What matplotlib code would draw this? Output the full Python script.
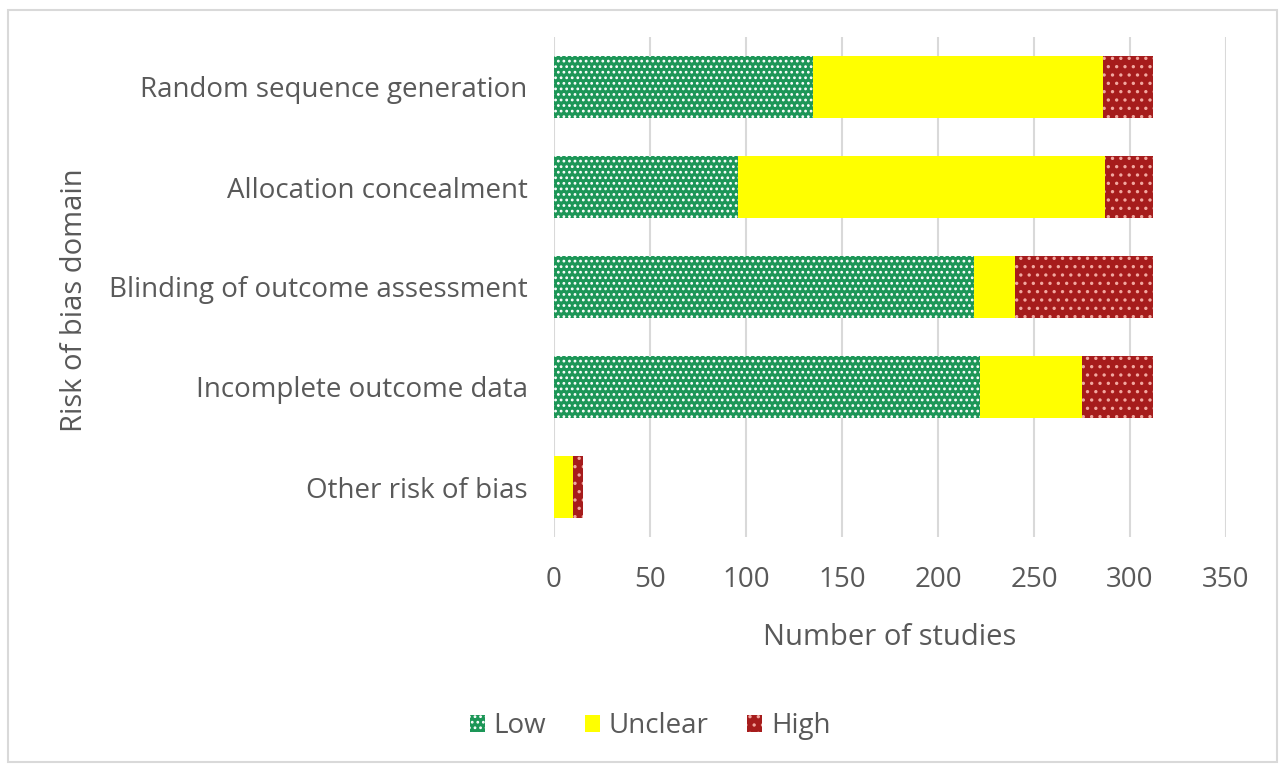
import matplotlib.pyplot as plt
import matplotlib.patches as patches
import numpy as np

domains = ['Random sequence generation', 'Allocation concealment',
           'Blinding of outcome assessment', 'Incomplete outcome data',
           'Other risk of bias']
low = [135, 96, 219, 222, 0]
unclear = [151, 191, 21, 53, 10]
high = [26, 25, 72, 37, 5]
xticks = [0, 50, 100, 150, 200, 250, 300, 350]

GREEN = '#1c9657'
YELLOW = '#ffff00'
RED = '#a61c1c'
TEXT = '#595959'
FS = 20

plt.rcParams['font.family'] = ['Open Sans', 'DejaVu Sans']
plt.rcParams['hatch.linewidth'] = 1.2

fig = plt.figure(figsize=(12.85, 7.69), dpi=100)
ax = fig.add_axes([554 / 1285, 1 - 537 / 769, (1226 - 554) / 1285, 500 / 769])

y = np.arange(len(domains))
low_a = np.array(low)
unc_a = np.array(unclear)
high_a = np.array(high)

ax.barh(y, low_a, height=0.62, color=GREEN, edgecolor='white', linewidth=0,
        hatch='...', label='Low', zorder=3)
ax.barh(y, unc_a, left=low_a, height=0.62, color=YELLOW, linewidth=0,
        label='Unclear', zorder=3)
ax.barh(y, high_a, left=low_a + unc_a, height=0.62, color=RED, edgecolor='#f2a8a0',
        linewidth=0, hatch='..', label='High', zorder=3)

ax.set_ylim(len(domains) - 0.5, -0.5)
ax.set_xlim(0, 350)
ax.set_yticks(y)
ax.set_yticklabels(domains, fontsize=FS, color=TEXT)
ax.set_xticks(xticks)
ax.set_xticklabels([str(t) for t in xticks], fontsize=FS, color=TEXT)
ax.tick_params(axis='y', length=0, pad=19)
ax.tick_params(axis='x', length=0, pad=21)
ax.grid(axis='x', color='#d9d9d9', linewidth=1.5, zorder=0)
for s in ax.spines.values():
    s.set_visible(False)

ax.set_xlabel('Number of studies', fontsize=FS + 1, color=TEXT, labelpad=21)
fig.text(75 / 1285, 1 - 300 / 769, 'Risk of bias domain', rotation=90,
         ha='center', va='center', fontsize=FS + 1, color=TEXT)

leg = fig.legend(loc='center', bbox_to_anchor=(650 / 1285, 1 - 726 / 769), ncol=3,
                 frameon=False, fontsize=FS, handlelength=0.55, handleheight=0.55,
                 columnspacing=1.4, handletextpad=0.3)
for t in leg.get_texts():
    t.set_color(TEXT)

# light outer border
fig.patches.append(patches.Rectangle((8 / 1285, 7 / 769), 1269 / 1285, 752 / 769,
                                     transform=fig.transFigure, fill=False,
                                     edgecolor='#d9d9d9', linewidth=1.5))

fig.savefig('out.png', dpi=100, facecolor='white')
